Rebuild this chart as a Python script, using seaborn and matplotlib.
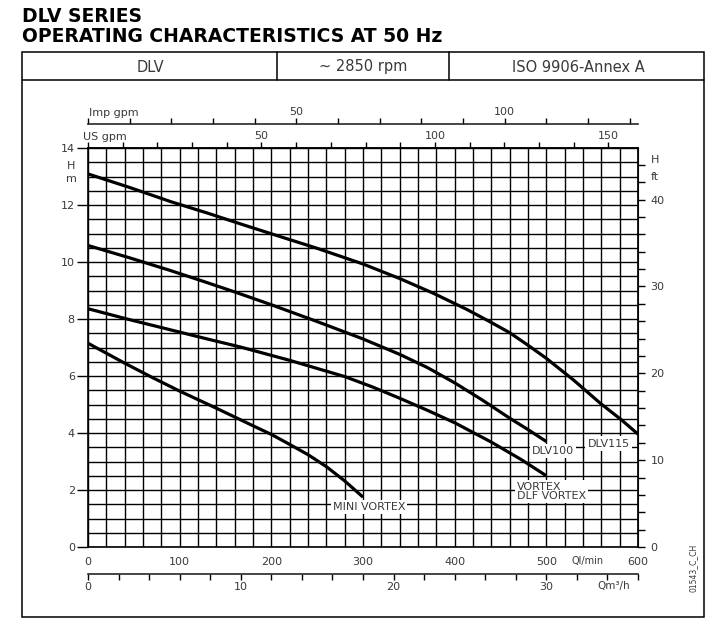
import numpy as np
import pandas as pd
import matplotlib
matplotlib.use("Agg")
import matplotlib.pyplot as plt
import matplotlib.ticker as mticker
from matplotlib.lines import Line2D
from matplotlib.patches import Rectangle
import seaborn as sns

# ---------------- data ----------------
q_dlv115 = [0, 45, 90, 130, 166, 200, 250, 300, 340, 377, 413, 437, 460,
            480, 500, 530, 559, 582, 600]
h_dlv115 = [13.09, 12.62, 12.12, 11.72, 11.34, 10.99, 10.48, 9.93, 9.42, 8.9,
            8.34, 7.93, 7.52, 7.08, 6.62, 5.85, 5.04, 4.46, 3.96]

q_dlv100 = [0, 45, 90, 125, 160, 200, 250, 300, 340, 370, 400, 430, 460,
            480, 500]
h_dlv100 = [10.58, 10.15, 9.70, 9.33, 8.95, 8.50, 7.91, 7.30, 6.76, 6.30,
            5.76, 5.16, 4.52, 4.12, 3.70]

q_vortex = [0, 45, 90, 130, 166, 220, 280, 310, 340, 370, 400, 440, 473,
            500]
h_vortex = [8.36, 7.98, 7.62, 7.30, 7.02, 6.55, 5.98, 5.62, 5.22, 4.80,
            4.36, 3.68, 3.06, 2.50]

q_mini = [0, 20, 40, 70, 100, 140, 177, 200, 220, 240, 260, 280, 300]
h_mini = [7.15, 6.80, 6.45, 5.95, 5.47, 4.87, 4.30, 3.95, 3.60, 3.24, 2.82,
          2.32, 1.75]

pump_names = ["DLV115", "DLV100", "VORTEX", "MINI VORTEX"]

x_ticks_lpm = [0, 100, 200, 300, 400, 500, 600]
y_ticks_m = [0, 2, 4, 6, 8, 10, 12, 14]
ft_labels = [0, 10, 20, 30, 40]
usgpm_labels = [50, 100, 150]
impgpm_labels = [50, 100]
m3h_labels = [0, 10, 20, 30]

header_cells = ["DLV", "~ 2850 rpm", "ISO 9906-Annex A"]
title_1 = "DLV SERIES"
title_2 = "OPERATING CHARACTERISTICS AT 50 Hz"

frames = []
for name, q, h in zip(pump_names,
                      [q_dlv115, q_dlv100, q_vortex, q_mini],
                      [h_dlv115, h_dlv100, h_vortex, h_mini]):
    frames.append(pd.DataFrame({"Q": q, "H": h, "pump": name}))
df = pd.concat(frames, ignore_index=True)

# ---------------- style ----------------
sns.set_style("white")
plt.rcParams["font.family"] = ["DejaVu Sans"]
TXT = "#3a3a3a"
FS = 8

W, H = 716, 620
fig = plt.figure(figsize=(W / 100, H / 100), dpi=100)


def fx(x):
    return x / W


def fy(y):
    return 1 - y / H


L, R, T, B = 88, 638, 148, 547
ax = fig.add_axes([fx(L), fy(B), fx(R) - fx(L), fy(T) - fy(B)])

sns.lineplot(data=df, x="Q", y="H", hue="pump", palette=["black"] * 4,
             estimator=None, sort=True, legend=False, linewidth=2.3,
             ax=ax, zorder=5)
for ln in ax.get_lines():
    ln.set_solid_joinstyle("round")
    ln.set_solid_capstyle("butt")

ax.set_xlim(0, 600)
ax.set_ylim(0, 14)
ax.set_xlabel("")
ax.set_ylabel("")
ax.set_xticks(x_ticks_lpm)
ax.set_xticks(np.arange(0, 601, 20), minor=True)
ax.set_yticks(y_ticks_m)
ax.set_yticks(np.arange(0, 14.01, 0.5), minor=True)
ax.grid(which="both", color="black", linewidth=1.0, zorder=1)
ax.set_axisbelow(True)
for s in ax.spines.values():
    s.set_color("black")
    s.set_linewidth(1.2)
ax.tick_params(axis="x", which="both", length=0, pad=7, labelsize=FS,
               labelcolor=TXT)
ax.tick_params(axis="y", which="major", length=8, width=1.0, color="black",
               pad=1.5, labelsize=FS, labelcolor=TXT, left=True)
ax.tick_params(axis="y", which="minor", length=0)


def lab_fmt(labels):
    def f(v, pos):
        r = int(round(v))
        return str(r) if (abs(v - r) < 1e-6 and r in labels) else ""
    return mticker.FuncFormatter(f)


# ---- top: US gpm (on the axes top spine) ----
sec_us = ax.secondary_xaxis("top", functions=(lambda q: q / 3.785,
                                               lambda g: g * 3.785))
sec_us.set_xticks(np.arange(0, 151, 10))
sec_us.xaxis.set_major_formatter(lab_fmt(usgpm_labels))
sec_us.tick_params(length=4.5, width=1.0, color="black", pad=0.5,
                   labelsize=FS, labelcolor=TXT)
sec_us.spines["top"].set_linewidth(1.2)

# ---- Imp gpm scale above ----
imp_loc = (B - 124) / (B - T)
sec_imp = ax.secondary_xaxis(imp_loc, functions=(lambda q: q / 4.546,
                                                  lambda g: g * 4.546))
sec_imp.set_xticks(np.arange(0, 131, 10))
sec_imp.xaxis.set_major_formatter(lab_fmt(impgpm_labels))
sec_imp.tick_params(length=4.5, width=1.0, color="black", pad=0.5,
                    labelsize=FS, labelcolor=TXT)
sec_imp.spines["top"].set_linewidth(1.2)

# ---- m3/h scale below ----
m3_loc = (B - 574) / (B - T)
sec_m3 = ax.secondary_xaxis(m3_loc, functions=(lambda q: q * 0.06,
                                                lambda m: m / 0.06))
sec_m3.set_xticks(np.arange(0, 36.01, 2))
sec_m3.xaxis.set_major_formatter(lab_fmt(m3h_labels))
sec_m3.tick_params(length=4, width=1.0, color="black", pad=1.5,
                   labelsize=FS, labelcolor=TXT)
sec_m3.spines["bottom"].set_linewidth(1.2)

# ---- right: feet ----
sec_ft = ax.secondary_yaxis("right", functions=(lambda m: m * 3.28084,
                                                 lambda f: f / 3.28084))
sec_ft.set_yticks(np.arange(0, 44.01, 2))
sec_ft.yaxis.set_major_formatter(lab_fmt(ft_labels))
sec_ft.tick_params(length=5, width=1.0, color="black", pad=4,
                   labelsize=FS, labelcolor=TXT)

# ---- curve labels ----
bbox = dict(facecolor="white", edgecolor="none", pad=1.5)
lbl_kw = dict(fontsize=FS, color=TXT, zorder=10, bbox=bbox)
ax.text(545, 3.63, "DLV115", ha="left", va="center", **lbl_kw)
ax.text(484, 3.36, "DLV100", ha="left", va="center", **lbl_kw)
ax.text(468, 1.95, "VORTEX\nDLF VORTEX", ha="left", va="center",
        linespacing=0.95, **lbl_kw)
ax.text(267, 1.41, "MINI VORTEX", ha="left", va="center", **lbl_kw)

# ---- unit labels ----
fig.text(fx(71), fy(166), "H", ha="center", va="center", fontsize=FS, color=TXT)
fig.text(fx(71), fy(179), "m", ha="center", va="center", fontsize=FS, color=TXT)
fig.text(fx(655), fy(160), "H", ha="center", va="center", fontsize=FS, color=TXT)
fig.text(fx(655), fy(177), "ft", ha="center", va="center", fontsize=FS, color=TXT)
fig.text(fx(83), fy(137.5), "US gpm", ha="left", va="center", fontsize=FS, color=TXT)
fig.text(fx(89), fy(113), "Imp gpm", ha="left", va="center", fontsize=FS, color=TXT)
fig.text(fx(588), fy(561), "Ql/min", ha="center", va="center", fontsize=7, color=TXT)
fig.text(fx(614), fy(586.5), "Qm³/h", ha="center", va="center", fontsize=7.5, color=TXT)
fig.text(fx(693), fy(568), "01543_C_CH", ha="center", va="center",
         rotation=90, fontsize=5.5, color=TXT)

# ---- frame and header ----
fig.add_artist(Rectangle((fx(22), fy(617)), fx(704) - fx(22), fy(52) - fy(617),
                         transform=fig.transFigure, fill=False,
                         edgecolor="black", linewidth=1.1))
fig.add_artist(Line2D([fx(22), fx(704)], [fy(80), fy(80)],
                      transform=fig.transFigure, color="black", linewidth=1.1))
for xs in (277, 449):
    fig.add_artist(Line2D([fx(xs), fx(xs)], [fy(52), fy(80)],
                          transform=fig.transFigure, color="black",
                          linewidth=1.1))
for cx, t in zip((150, 363, 578), header_cells):
    fig.text(fx(cx), fy(67), t, ha="center", va="center", fontsize=10.5,
             color=TXT)

fig.text(fx(22), fy(16.5), title_1, ha="left", va="center", fontsize=13.5,
         fontweight="bold", color="black")
fig.text(fx(22), fy(37), title_2, ha="left", va="center", fontsize=13.5,
         fontweight="bold", color="black")

fig.savefig("out.png", dpi=100, facecolor="white")
